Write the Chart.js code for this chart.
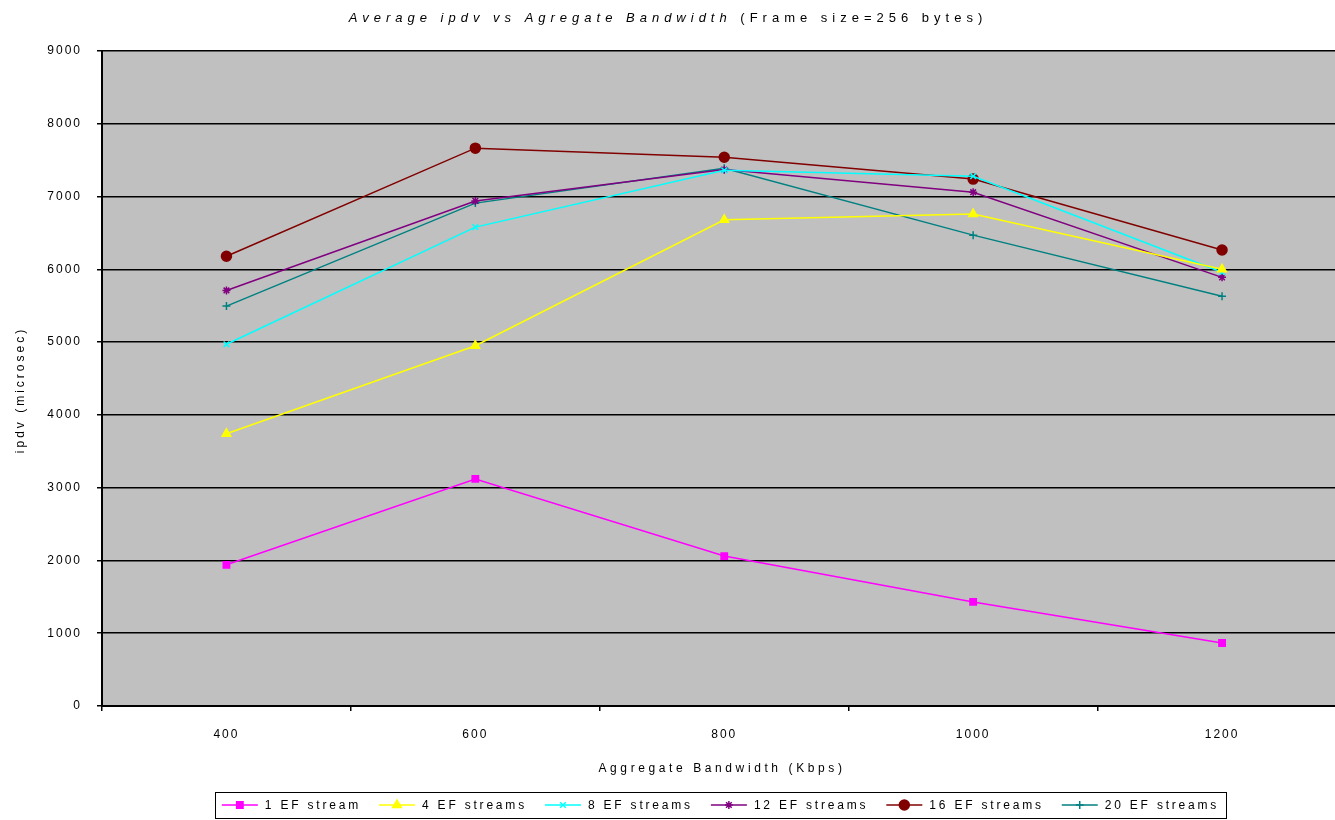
<!doctype html>
<html lang="en">
<head>
<meta charset="utf-8">
<title>Average ipdv vs Agregate Bandwidth</title>
<script src="https://cdn.jsdelivr.net/npm/chart.js"></script>
<style>
  html, body { margin: 0; padding: 0; background: #fff; overflow: hidden; }
  #wrap { width: 1353px; height: 820px; }
</style>
</head>
<body>
<div id="wrap"><canvas id="myChart" width="1353" height="820"></canvas></div>
<script>
// data
const bandwidth = ['400', '600', '800', '1000', '1200'];
const ef1  = [1940, 3120, 2060, 1430, 865];
const ef4  = [3740, 4950, 6680, 6760, 6000];
const ef8  = [4970, 6580, 7360, 7280, 5960];
const ef12 = [5710, 6940, 7370, 7060, 5890];
const ef16 = [6180, 7665, 7540, 7240, 6265];
const ef20 = [5495, 6910, 7390, 6470, 5630];
const yTicks = [0, 1000, 2000, 3000, 4000, 5000, 6000, 7000, 8000, 9000];

const FONT = '"Liberation Sans", Arial, sans-serif';

function series(label, values, color, style, radius) {
    return {
        label: label,
        data: values,
        borderColor: color,
        backgroundColor: color,
        borderWidth: 1.5,
        pointStyle: style,
        pointRadius: radius,
        pointBorderWidth: 1.5,
        pointHoverRadius: radius,
        tension: 0
    };
}

const data = {
    labels: bandwidth,
    datasets: [
        series('1 EF stream', ef1, '#FF00FF', 'rect', 4.5),
        series('4 EF streams', ef4, '#FFFF00', 'triangle', 5),
        series('8 EF streams', ef8, '#00FFFF', 'crossRot', 4),
        series('12 EF streams', ef12, '#800080', 'star', 4),
        series('16 EF streams', ef16, '#800000', 'circle', 5),
        series('20 EF streams', ef20, '#008080', 'cross', 4)
    ]
};

// gray plot background + spaced-out text like the old Excel export
const decor = {
    id: 'decor',
    beforeDraw(chart) {
        const a = chart.chartArea;
        const ctx = chart.ctx;
        ctx.save();
        ctx.fillStyle = '#C0C0C0';
        ctx.fillRect(a.left, a.top, a.right - a.left, a.bottom - a.top);
        ctx.restore();
        ctx.letterSpacing = '2px';
    },
    afterDraw(chart) {
        const ctx = chart.ctx;
        ctx.save();
        ctx.fillStyle = '#000';
        ctx.textBaseline = 'middle';

        // title: italic part + plain part
        ctx.letterSpacing = '5px';
        const t1 = 'Average ipdv vs Agregate Bandwidth ';
        const t2 = '(Frame size=256 bytes)';
        ctx.font = 'italic 13px ' + FONT;
        const w1 = ctx.measureText(t1).width;
        ctx.font = '13px ' + FONT;
        const w2 = ctx.measureText(t2).width;
        let x = 668 - (w1 + w2) / 2;
        ctx.textAlign = 'left';
        ctx.font = 'italic 13px ' + FONT;
        ctx.fillText(t1, x, 18);
        ctx.font = '13px ' + FONT;
        ctx.fillText(t2, x + w1, 18);

        // axis titles
        ctx.letterSpacing = '3.6px';
        ctx.font = '12px ' + FONT;
        ctx.textAlign = 'center';
        ctx.fillText('Aggregate Bandwidth (Kbps)', 722, 769);
        ctx.save();
        ctx.letterSpacing = '3px';
        ctx.translate(21, 390);
        ctx.rotate(-Math.PI / 2);
        ctx.fillText('ipdv (microsec)', 0, 0);
        ctx.restore();

        // legend in a box, line + marker per series
        ctx.letterSpacing = '2.8px';
        ctx.font = '12px ' + FONT;
        const lineLen = 36, gapText = 7, gapItem = 18;
        const items = chart.data.datasets.map((ds, i) => ({
            ds, i, w: lineLen + gapText + ctx.measureText(ds.label).width
        }));
        const total = items.reduce((s, it) => s + it.w, 0) + gapItem * (items.length - 1);
        const boxL = 215, boxR = 1226, boxT = 792, boxB = 818;
        ctx.strokeStyle = '#000';
        ctx.lineWidth = 1;
        ctx.strokeRect(boxL + 0.5, boxT + 0.5, boxR - boxL, boxB - boxT);
        const cy = (boxT + boxB) / 2;
        x = (boxL + boxR) / 2 - total / 2;
        ctx.textAlign = 'left';
        items.forEach(it => {
            const ds = it.ds;
            ctx.strokeStyle = ds.borderColor;
            ctx.lineWidth = 1.5;
            ctx.beginPath();
            ctx.moveTo(x, cy);
            ctx.lineTo(x + lineLen, cy);
            ctx.stroke();
            ctx.fillStyle = ds.backgroundColor;
            Chart.helpers.drawPoint(ctx, {
                pointStyle: ds.pointStyle, radius: ds.pointRadius, borderWidth: 1.5, rotation: 0
            }, x + lineLen / 2, cy);
            ctx.fillStyle = '#000';
            ctx.fillText(ds.label, x + lineLen + gapText, cy + 1);
            x += it.w + gapItem;
        });
        ctx.restore();
    }
};

const config = {
    type: 'line',
    data,
    options: {
        responsive: false,
        animation: false,
        events: [],
        layout: { padding: { top: 51, left: 0, right: 0, bottom: 0 } },
        plugins: {
            legend: { display: false },
            title: { display: false },
            tooltip: { enabled: false }
        },
        scales: {
            x: {
                type: 'category',
                offset: true,
                grid: {
                    offset: true,
                    drawOnChartArea: false,
                    drawTicks: true,
                    tickLength: 5,
                    color: '#000',
                    lineWidth: 1.5
                },
                border: { color: '#000', width: 2 },
                ticks: { color: '#000', font: { family: FONT, size: 12 }, padding: 16, maxRotation: 0 },
                afterFit(scale) { scale.height = 114; }
            },
            y: {
                min: 0,
                max: 9000,
                afterBuildTicks(scale) { scale.ticks = yTicks.map(v => ({ value: v })); },
                grid: {
                    color: '#000',
                    lineWidth: 1.5,
                    drawTicks: true,
                    tickLength: 5
                },
                border: { color: '#000', width: 2 },
                ticks: {
                    color: '#000',
                    font: { family: FONT, size: 12 },
                    padding: 15,
                    callback: v => String(v)
                },
                afterFit(scale) { scale.width = 102; }
            }
        }
    },
    plugins: [decor]
};

const myChart = new Chart(document.getElementById('myChart'), config);
</script>
</body>
</html>
